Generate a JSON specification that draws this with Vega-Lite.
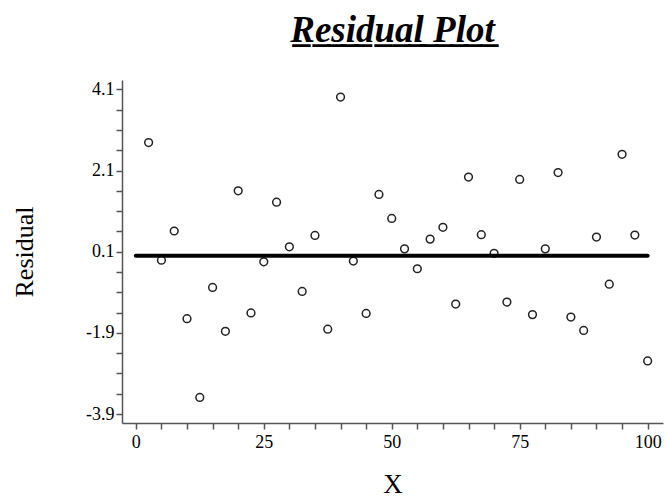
{
  "$schema": "https://vega.github.io/schema/vega-lite/v6.json",
  "width": 541,
  "height": 343,
  "autosize": {"type": "none"},
  "padding": {"left": 122, "top": 80, "right": 4, "bottom": 77},
  "background": "white",
  "config": {
    "view": {"stroke": null},
    "font": "Liberation Serif",
    "axis": {"grid": false, "domainColor": "#555", "tickColor": "#555", "labelColor": "#000", "titleColor": "#000", "labelFont": "Liberation Serif", "titleFont": "Liberation Serif", "titleFontWeight": "normal", "labelOverlap": false}
  },
  "title": {
    "text": "R\u0332e\u0332s\u0332i\u0332d\u0332u\u0332a\u0332l\u0332 \u0332P\u0332l\u0332o\u0332t\u0332",
    "font": "Liberation Serif",
    "fontSize": 37,
    "fontStyle": "italic",
    "fontWeight": "bold",
    "color": "#000",
    "anchor": "middle",
    "offset": 30
  },
  "datasets": {
    "pts": [
      {"X": 2.5, "Residual": 2.79}, {"X": 5, "Residual": -0.11}, {"X": 7.5, "Residual": 0.61}, {"X": 10, "Residual": -1.55},
      {"X": 12.5, "Residual": -3.49}, {"X": 15, "Residual": -0.78}, {"X": 17.5, "Residual": -1.86}, {"X": 20, "Residual": 1.6},
      {"X": 22.5, "Residual": -1.41}, {"X": 25, "Residual": -0.15}, {"X": 27.5, "Residual": 1.32}, {"X": 30, "Residual": 0.22},
      {"X": 32.5, "Residual": -0.88}, {"X": 35, "Residual": 0.5}, {"X": 37.5, "Residual": -1.81}, {"X": 40, "Residual": 3.91},
      {"X": 42.5, "Residual": -0.13}, {"X": 45, "Residual": -1.42}, {"X": 47.5, "Residual": 1.51}, {"X": 50, "Residual": 0.92},
      {"X": 52.5, "Residual": 0.17}, {"X": 55, "Residual": -0.32}, {"X": 57.5, "Residual": 0.41}, {"X": 60, "Residual": 0.7},
      {"X": 62.5, "Residual": -1.19}, {"X": 65, "Residual": 1.94}, {"X": 67.5, "Residual": 0.52}, {"X": 70, "Residual": 0.06},
      {"X": 72.5, "Residual": -1.14}, {"X": 75, "Residual": 1.88}, {"X": 77.5, "Residual": -1.45}, {"X": 80, "Residual": 0.17},
      {"X": 82.5, "Residual": 2.05}, {"X": 85, "Residual": -1.51}, {"X": 87.5, "Residual": -1.84}, {"X": 90, "Residual": 0.46},
      {"X": 92.5, "Residual": -0.7}, {"X": 95, "Residual": 2.5}, {"X": 97.5, "Residual": 0.51}, {"X": 100, "Residual": -2.59}
    ],
    "zero": [{"X": 0, "x1": 100, "Residual": 0}]
  },
  "encoding": {
    "x": {
      "field": "X", "type": "quantitative",
      "scale": {"domain": [-2.7, 103], "nice": false, "zero": false},
      "axis": {
        "title": "X", "titleFontSize": 27, "titlePadding": 20,
        "values": [0,5,10,15,20,25,30,35,40,45,50,55,60,65,70,75,80,85,90,95,100],
        "labelExpr": "abs(datum.value) < 0.01 ? '0' : abs(datum.value-25) < 0.01 ? '25' : abs(datum.value-50) < 0.01 ? '50' : abs(datum.value-75) < 0.01 ? '75' : abs(datum.value-100) < 0.01 ? '100' : ''",
        "labelOverlap": false, "labelBound": false, "labelFlush": false,
        "labelFontSize": 18, "tickSize": 6, "labelPadding": 4, "domainWidth": 1.5, "tickWidth": 1.5
      }
    },
    "y": {
      "field": "Residual", "type": "quantitative",
      "scale": {"domain": [-4.12, 4.33], "nice": false, "zero": false},
      "axis": {
        "title": "Residual", "titleFontSize": 26, "titlePadding": 48,
        "values": [-3.9,-3.4,-2.9,-2.4,-1.9,-1.4,-0.9,-0.4,0.1,0.6,1.1,1.6,2.1,2.6,3.1,3.6,4.1],
        "labelExpr": "abs(datum.value-4.1)<0.01 ? '4.1' : abs(datum.value-2.1)<0.01 ? '2.1' : abs(datum.value-0.1)<0.01 ? '0.1' : abs(datum.value+1.9)<0.01 ? '-1.9' : abs(datum.value+3.9)<0.01 ? '-3.9' : ''",
        "labelOverlap": false, "labelBound": false, "labelFlush": false,
        "labelFontSize": 18, "tickSize": 6, "labelPadding": 2, "domainWidth": 1.5, "tickWidth": 1.5
      }
    }
  },
  "layer": [
    {
      "data": {"name": "pts"},
      "mark": {"type": "point", "shape": "circle", "filled": false, "stroke": "#222", "strokeWidth": 1.5, "size": 60, "opacity": 1}
    },
    {
      "data": {"name": "zero"},
      "mark": {"type": "rule", "color": "#000", "strokeWidth": 4, "strokeCap": "round"},
      "encoding": {
        "x2": {"field": "x1"}
      }
    }
  ]
}
